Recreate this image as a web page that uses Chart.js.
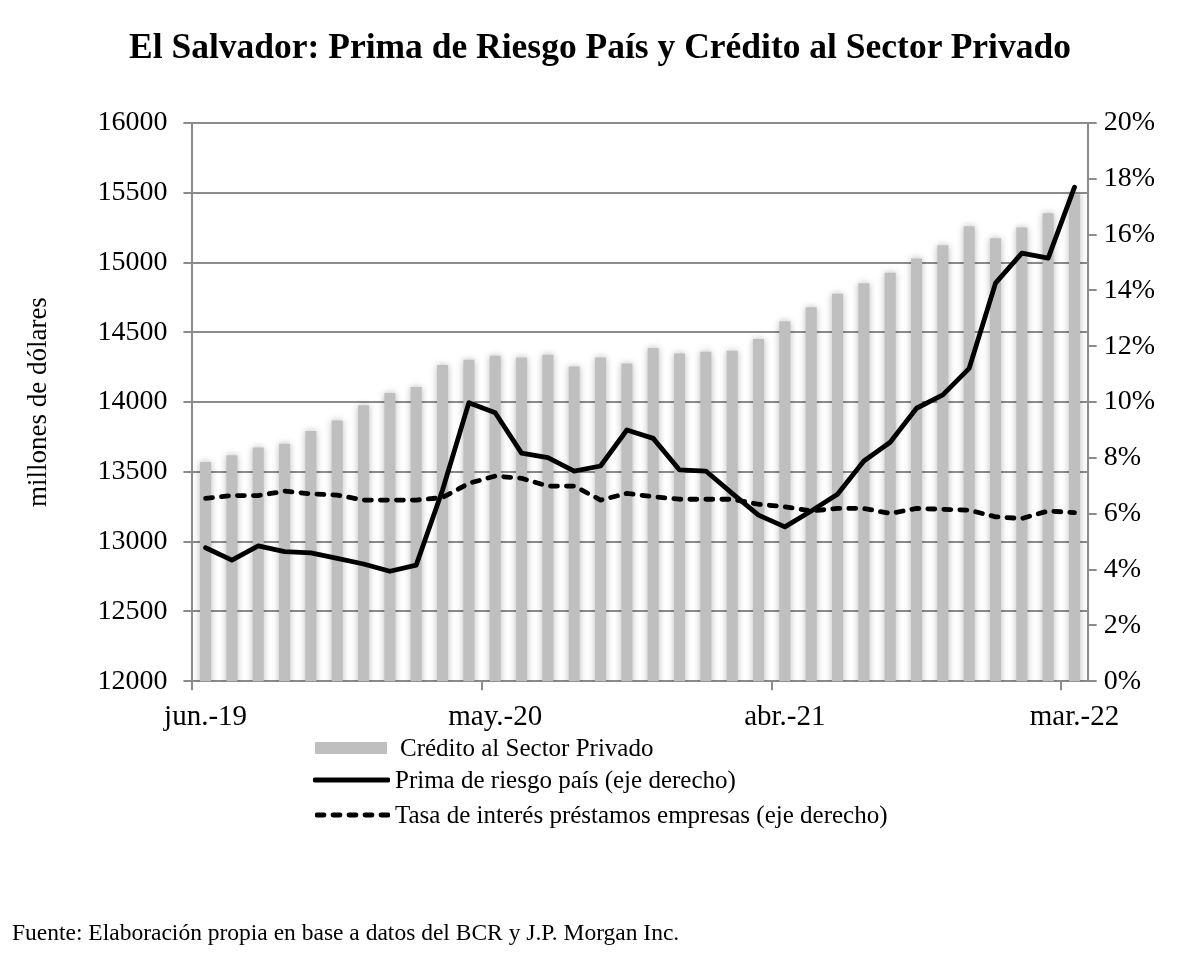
<!DOCTYPE html>
<html lang="es">
<head>
<meta charset="utf-8">
<title>El Salvador: Prima de Riesgo País y Crédito al Sector Privado</title>
<script src="https://cdn.jsdelivr.net/npm/chart.js@4.4.1/dist/chart.umd.min.js"></script>
<style>
  body { margin: 0; background: #fff; }
  #wrap { position: relative; width: 1200px; height: 960px; font-family: "Liberation Serif", serif; color: #000; }
  #wrap canvas { position: absolute; left: 0; top: 0; }
  #titulo { position: absolute; left: 0; top: 25px; width: 1200px; text-align: center; font-size: 35.5px; line-height: 42px; font-weight: bold; white-space: nowrap; }
  .fila { position: absolute; height: 34px; display: flex; align-items: center; font-size: 25px; white-space: nowrap; }
  .fila svg { display: block; }
  #fuente { position: absolute; left: 12px; top: 919px; font-size: 23.5px; white-space: nowrap; }
</style>
</head>
<body>
<div id="wrap">
  <canvas id="grafico" width="1200" height="960"></canvas>
  <div id="titulo">El Salvador: Prima de Riesgo País y Crédito al Sector Privado</div>
  <div class="fila" style="left:315px; top:731px;">
    <svg width="72" height="14"><rect x="0" y="1" width="72" height="12" fill="#bfbfbf"></rect></svg>
    <span style="margin-left:13px;">Crédito al Sector Privado</span>
  </div>
  <div class="fila" style="left:313px; top:763px;">
    <svg width="77" height="14"><line x1="2" y1="7" x2="75" y2="7" stroke="#000" stroke-width="4.8" stroke-linecap="round"></line></svg>
    <span style="margin-left:5px;">Prima de riesgo país (eje derecho)</span>
  </div>
  <div class="fila" style="left:315px; top:798px;">
    <svg width="75" height="14"><line x1="2" y1="7" x2="73" y2="7" stroke="#000" stroke-width="4.8" stroke-linecap="round" stroke-dasharray="7 9"></line></svg>
    <span style="margin-left:5px;">Tasa de interés préstamos empresas (eje derecho)</span>
  </div>
  <div id="fuente">Fuente: Elaboración propia en base a datos del BCR y J.P. Morgan Inc.</div>
</div>
<script>
// meses (jun.-19 a mar.-22)
const meses = ['jun.-19', 'jul.-19', 'ago.-19', 'sept.-19', 'oct.-19', 'nov.-19', 'dic.-19',
  'ene.-20', 'feb.-20', 'mar.-20', 'abr.-20', 'may.-20', 'jun.-20', 'jul.-20', 'ago.-20', 'sept.-20', 'oct.-20', 'nov.-20', 'dic.-20',
  'ene.-21', 'feb.-21', 'mar.-21', 'abr.-21', 'may.-21', 'jun.-21', 'jul.-21', 'ago.-21', 'sept.-21', 'oct.-21', 'nov.-21', 'dic.-21',
  'ene.-22', 'feb.-22', 'mar.-22'];

// Crédito al sector privado (millones de dólares)
const credito = [13571, 13619, 13674, 13702, 13793, 13869, 13977, 14065, 14108, 14266,
  14304, 14332, 14320, 14340, 14255, 14320, 14277, 14388, 14349, 14361,
  14368, 14452, 14579, 14680, 14776, 14852, 14927, 15029, 15124, 15261,
  15175, 15252, 15353, 15490];

// Prima de riesgo país (%)
const prima = [4.78, 4.34, 4.85, 4.64, 4.60, 4.40, 4.20, 3.94, 4.16, 6.85,
  9.98, 9.62, 8.17, 8.01, 7.53, 7.71, 9.00, 8.70, 7.57, 7.53,
  6.73, 5.95, 5.53, 6.10, 6.70, 7.89, 8.56, 9.78, 10.26, 11.21,
  14.26, 15.34, 15.16, 17.70];

// Tasa de interés préstamos empresas (%)
const tasa = [6.55, 6.65, 6.65, 6.81, 6.71, 6.67, 6.49, 6.49, 6.49, 6.58,
  7.09, 7.35, 7.27, 6.99, 6.99, 6.49, 6.73, 6.61, 6.52, 6.52,
  6.52, 6.34, 6.25, 6.10, 6.19, 6.19, 6.01, 6.19, 6.16, 6.13,
  5.89, 5.83, 6.10, 6.04];

const cadaCuantos = 11; // etiqueta del eje x cada 11 meses
const gris = '#8c8c8c';
const fuente = '"Liberation Serif", serif';

// sombra suave de las barras (como en Excel)
const sombraBarras = {
  id: 'sombraBarras',
  beforeDatasetDraw(chart, args) {
    if (args.meta.type !== 'bar') return;
    const ctx = chart.ctx;
    ctx.save();
    ctx.shadowColor = 'rgba(0,0,0,0.28)';
    ctx.shadowBlur = 7;
  },
  afterDatasetDraw(chart, args) {
    if (args.meta.type !== 'bar') return;
    chart.ctx.restore();
  }
};

Chart.defaults.font.family = fuente;
Chart.defaults.color = '#000';

const ctx = document.getElementById('grafico').getContext('2d');
const grafico = new Chart(ctx, {
  type: 'bar',
  data: {
    labels: meses,
    datasets: [
      {
        type: 'line',
        label: 'Prima de riesgo país (eje derecho)',
        data: prima,
        yAxisID: 'y1',
        borderColor: '#000',
        borderWidth: 4.8,
        borderJoinStyle: 'round',
        borderCapStyle: 'round',
        pointRadius: 0,
        tension: 0,
        order: 0
      },
      {
        type: 'line',
        label: 'Tasa de interés préstamos empresas (eje derecho)',
        data: tasa,
        yAxisID: 'y1',
        borderColor: '#000',
        borderWidth: 4.8,
        borderDash: [7, 9],
        borderCapStyle: 'round',
        borderJoinStyle: 'round',
        pointRadius: 0,
        tension: 0,
        order: 1
      },
      {
        type: 'bar',
        label: 'Crédito al Sector Privado',
        data: credito,
        yAxisID: 'y',
        backgroundColor: '#bfbfbf',
        barPercentage: 0.42,
        categoryPercentage: 1,
        order: 2
      }
    ]
  },
  options: {
    responsive: false,
    animation: false,
    layout: { padding: { left: 8, right: 38, top: 123, bottom: 215 } },
    plugins: {
      legend: { display: false },
      tooltip: { enabled: false },
      title: { display: false }
    },
    scales: {
      x: {
        type: 'category',
        offset: true,
        grid: {
          offset: true,
          drawOnChartArea: false,
          drawTicks: true,
          tickLength: 9,
          lineWidth: 2,
          color: (c) => (c.index !== undefined && c.index % cadaCuantos === 0) ? gris : 'rgba(0,0,0,0)'
        },
        border: { display: true, color: gris, width: 2 },
        ticks: {
          autoSkip: false,
          maxRotation: 0,
          padding: 10,
          font: { size: 29 },
          callback: function (v, i) { return i % cadaCuantos === 0 ? meses[i] : ''; }
        }
      },
      y: {
        position: 'left',
        min: 12000,
        max: 16000,
        ticks: { stepSize: 500, padding: 16, font: { size: 28 }, callback: (v) => String(v) },
        grid: { color: gris, lineWidth: 2, tickLength: 9 },
        border: { color: gris, width: 2 },
        title: {
          display: true,
          text: 'millones de dólares',
          font: { size: 27 },
          padding: { top: 15, bottom: 26 }
        }
      },
      y1: {
        position: 'right',
        min: 0,
        max: 20,
        ticks: {
          stepSize: 2,
          padding: 7,
          font: { size: 28 },
          callback: (v) => v + '%'
        },
        grid: { drawOnChartArea: false, color: gris, lineWidth: 2, tickLength: 9 },
        border: { color: gris, width: 2 }
      }
    }
  },
  plugins: [sombraBarras]
});
</script>
</body>
</html>
